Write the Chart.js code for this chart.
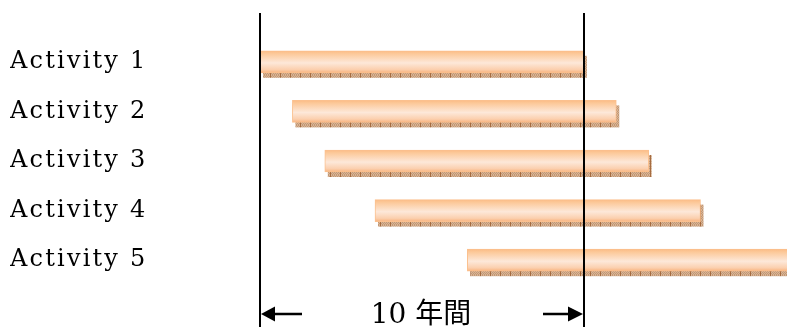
<!DOCTYPE html>
<html>
<head>
<meta charset="utf-8">
<title>Activities</title>
<script src="https://cdn.jsdelivr.net/npm/chart.js@4.4.1/dist/chart.umd.min.js"></script>
<style>
    html, body { margin: 0; padding: 0; background: #fff; }
    canvas { display: block; }
</style>
</head>
<body>
<canvas id="ganttChart" width="787" height="327"></canvas>
<script>
const activities = ['Activity 1', 'Activity 2', 'Activity 3', 'Activity 4', 'Activity 5'];
const startYears = [0, 1, 2, 3.55, 6.4];
const endYears = [10, 11, 12, 13.6, 16.4];
const spanYears = [0, 10];
const spanLabel = '10 年間';

const ctx = document.getElementById('ganttChart').getContext('2d');

// brown checkered strip used for the bar shadows
const shadowPattern = (function () {
    const c = document.createElement('canvas');
    c.width = 10;
    c.height = 5;
    const p = c.getContext('2d');
    p.fillStyle = '#d8b497';
    p.fillRect(0, 0, 10, 5);
    p.fillStyle = '#c29874';
    for (let i = 0; i < 10; i++) {
        for (let j = 0; j < 5; j++) {
            if ((i + j) % 2 === 0) p.fillRect(i, j, 1, 1);
        }
    }
    p.fillStyle = '#a66c40';
    p.fillRect(0, 0, 1, 5);
    return ctx.createPattern(c, 'repeat');
})();

function barFill(c) {
    const y = c.chart.scales.y;
    if (!y || c.dataIndex === undefined) return '#fcd9bd';
    const cy = y.getPixelForValue(c.dataIndex);
    if (!Number.isFinite(cy)) return '#fcd9bd';
    const g = c.chart.ctx.createLinearGradient(0, cy - 11, 0, cy + 11);
    g.addColorStop(0, '#fbbb85');
    g.addColorStop(0.12, '#fcc898');
    g.addColorStop(0.55, '#fde8d9');
    g.addColorStop(0.85, '#fbcfae');
    g.addColorStop(1, '#f8b27c');
    return g;
}

const ganttExtras = {
    id: 'ganttExtras',
    beforeDraw(chart) {
        chart.ctx.letterSpacing = '2.2px';
    },
    beforeDatasetsDraw(chart) {
        const c = chart.ctx;
        const area = chart.chartArea;
        c.letterSpacing = '0px';
        c.save();
        c.beginPath();
        c.rect(area.left, area.top, area.right - area.left, area.bottom - area.top + 10);
        c.clip();
        c.fillStyle = shadowPattern;
        chart.getDatasetMeta(0).data.forEach(bar => {
            const p = bar.getProps(['x', 'y', 'base', 'height'], true);
            const left = Math.min(p.x, p.base);
            const w = Math.abs(p.x - p.base);
            c.fillRect(left + 3, p.y - p.height / 2 + 5, w, p.height);
        });
        c.restore();
    },
    afterDatasetsDraw(chart) {
        const c = chart.ctx;
        const xs = chart.scales.x;
        const x0 = Math.round(xs.getPixelForValue(spanYears[0]));
        const x1 = Math.round(xs.getPixelForValue(spanYears[1]));
        const ay = 314;
        c.save();
        c.strokeStyle = '#000';
        c.fillStyle = '#000';
        c.lineWidth = 2;
        // span boundaries
        [x0, x1].forEach(x => {
            c.beginPath();
            c.moveTo(x, 13);
            c.lineTo(x, chart.height);
            c.stroke();
        });
        // arrows
        c.lineWidth = 2.5;
        c.beginPath();
        c.moveTo(x0 + 12, ay);
        c.lineTo(x0 + 42, ay);
        c.moveTo(x1 - 41, ay);
        c.lineTo(x1 - 14, ay);
        c.stroke();
        c.beginPath();
        c.moveTo(x0 + 1, ay);
        c.lineTo(x0 + 15, ay - 7.5);
        c.lineTo(x0 + 15, ay + 7.5);
        c.closePath();
        c.fill();
        c.beginPath();
        c.moveTo(x1 - 1, ay);
        c.lineTo(x1 - 16, ay - 7.5);
        c.lineTo(x1 - 16, ay + 7.5);
        c.closePath();
        c.fill();
        // span label
        c.font = '28px "DejaVu Serif", "Noto Sans CJK JP"';
        c.textAlign = 'center';
        c.textBaseline = 'alphabetic';
        c.fillText(spanLabel, (x0 + x1) / 2 - 1, 323);
        c.restore();
    }
};

const ganttChart = new Chart(ctx, {
    type: 'bar',
    data: {
        labels: activities,
        datasets: [{
            data: activities.map((_, i) => [startYears[i], endYears[i]]),
            backgroundColor: barFill,
            borderColor: '#fbc08e',
            borderWidth: 1,
            borderSkipped: false,
            barThickness: 22
        }]
    },
    options: {
        indexAxis: 'y',
        responsive: false,
        animation: false,
        layout: {
            padding: { left: 10, top: 37, bottom: 42, right: 0 }
        },
        plugins: {
            legend: { display: false },
            tooltip: { enabled: false }
        },
        scales: {
            x: {
                type: 'linear',
                min: 0,
                max: 16.27,
                display: false
            },
            y: {
                grid: { display: false },
                border: { display: false },
                ticks: {
                    crossAlign: 'far',
                    color: '#000',
                    font: { family: '"DejaVu Serif"', size: 24 }
                },
                afterFit(scale) {
                    scale.width = 250;
                }
            }
        }
    },
    plugins: [ganttExtras]
});
</script>
</body>
</html>
